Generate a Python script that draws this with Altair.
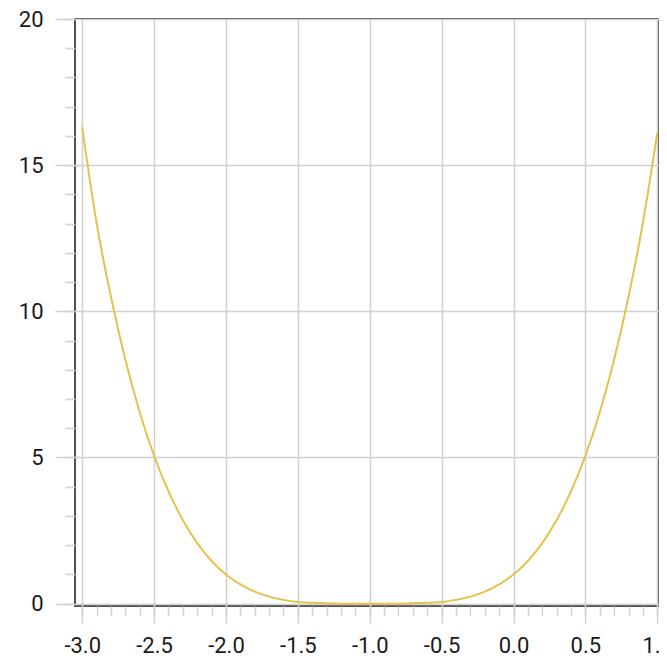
import altair as alt
import pandas as pd

x_vals = [-3.0, -2.9, -2.8, -2.7, -2.6, -2.5, -2.4, -2.3, -2.2, -2.1, -2.0,
          -1.9, -1.8, -1.7, -1.6, -1.5, -1.4, -1.3, -1.2, -1.1, -1.0,
          -0.9, -0.8, -0.7, -0.6, -0.5, -0.4, -0.3, -0.2, -0.1, 0.0,
          0.1, 0.2, 0.3, 0.4, 0.5, 0.6, 0.7, 0.8, 0.9, 1.0]
y_vals = [16.3, 13.03, 10.5, 8.35, 6.55, 5.06, 3.84, 2.86, 2.07, 1.46, 1.0,
          0.66, 0.41, 0.24, 0.13, 0.06, 0.03, 0.01, 0.0, 0.0, 0.0,
          0.0, 0.0, 0.01, 0.03, 0.06, 0.13, 0.24, 0.41, 0.66, 1.0,
          1.46, 2.07, 2.86, 3.84, 5.06, 6.55, 8.35, 10.5, 13.03, 16.1]

x_major = [-3.0, -2.5, -2.0, -1.5, -1.0, -0.5, 0.0, 0.5, 1.0]
x_minor = [round(-3.0 + 0.1 * i, 1) for i in range(41)]
y_major = [0, 5, 10, 15, 20]
y_minor = list(range(0, 21))

df = pd.DataFrame({"x": x_vals, "y": y_vals})

xscale = alt.Scale(domain=[-3.05, 1.012], nice=False, zero=False)
yscale = alt.Scale(domain=[-0.08, 20], nice=False, zero=False)

FONT = "Roboto"
GRID = "#d0d0d0"
LABEL = "#1a1a1a"

main = alt.Chart(df).mark_line(color="#e4c24e", strokeWidth=2,
                                interpolate="monotone").encode(
    x=alt.X("x:Q", scale=xscale, title=None,
            axis=alt.Axis(values=x_major, grid=True, gridColor=GRID,
                          gridWidth=1.5, domain=False, tickColor=GRID, tickWidth=1.5,
                          tickSize=17, labelFontSize=22, labelFont=FONT,
                          labelExpr="(datum.value < 0 ? '-' : '') + format(abs(datum.value), '.1f')",
                          labelColor=LABEL, labelPadding=12, orient="bottom",
                          labelFlush=False, labelOverlap=False)),
    y=alt.Y("y:Q", scale=yscale, title=None,
            axis=alt.Axis(values=y_major, grid=True, gridColor=GRID, gridWidth=1.5,
                          domain=False, tickColor=GRID, tickWidth=1.5, tickSize=20,
                          labelFontSize=22, labelFont=FONT, labelColor=LABEL,
                          labelPadding=12, orient="left", labelFlush=False,
                          labelOverlap=False)),
)

minor = alt.Chart(df).mark_line(opacity=0).encode(
    x=alt.X("x:Q", scale=xscale, title=None,
            axis=alt.Axis(values=x_minor, labels=False, grid=False, domain=False,
                          tickColor=GRID, tickWidth=1.5, tickSize=9, orient="bottom")),
    y=alt.Y("y:Q", scale=yscale, title=None,
            axis=alt.Axis(values=y_minor, labels=False, grid=False, domain=False,
                          tickColor=GRID, tickWidth=1.5, tickSize=10, orient="left")),
)

chart = alt.layer(minor, main).resolve_axis(x="independent", y="independent").properties(
    width=584, height=587,
    autosize=alt.AutoSizeParams(type="none"),
    padding={"left": 67, "top": 11, "right": 0, "bottom": 50},
    background="white",
).configure_view(stroke="#505050", strokeWidth=2)

chart.save("out.html", embed_options={"renderer": "svg", "actions": False})
